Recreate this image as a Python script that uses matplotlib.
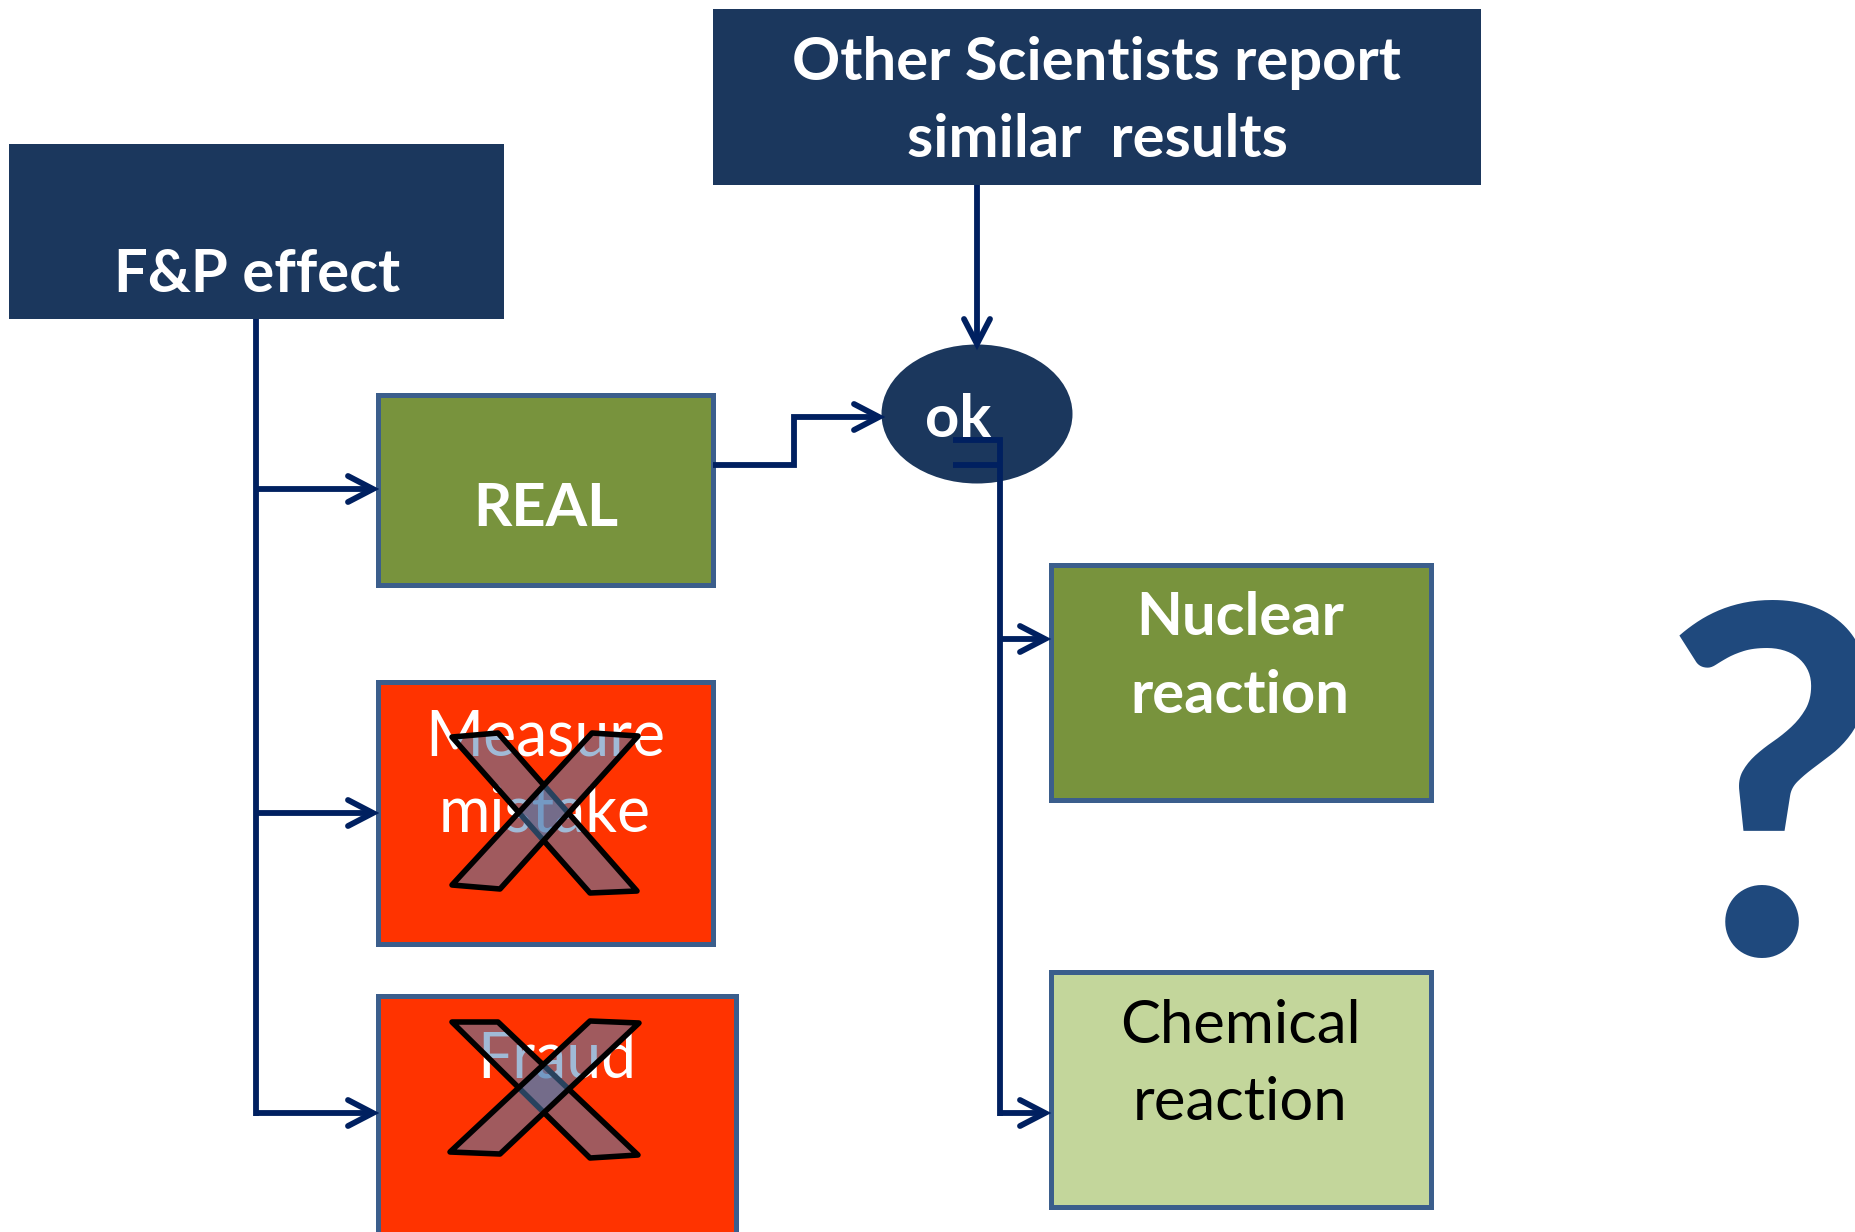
import matplotlib
matplotlib.use("Agg")
import matplotlib.pyplot as plt
from matplotlib.patches import Rectangle, Ellipse, Polygon

plt.rcParams["font.family"] = ["Lato", "DejaVu Sans"]

# -------------------------
# Content
# -------------------------
top_label = ["Other Scientists report", "similar  results"]
source_label = ["F&P effect"]
branch_labels = [["REAL"], ["Measure", "mistake"], ["Fraud"]]
ok_label = "ok"
outcome_labels = [["Nuclear", "reaction"], ["Chemical", "reaction"]]
question_label = "?"

# -------------------------
# Styles
# -------------------------
NAVY_BOX = "#1B375D"
LINE = "#002060"
EDGE = "#3B5E8C"
GREEN = "#78933D"
LIGHT_GREEN = "#C3D69B"
RED = "#FF3300"
QMARK = "#1F497D"
X_FILL = (0.30, 0.49, 0.70, 0.53)

W, H = 1855, 1232
fig = plt.figure(figsize=(W / 100, H / 100), dpi=100)
ax = fig.add_axes([0, 0, 1, 1])
ax.set_xlim(0, W)
ax.set_ylim(H, 0)
ax.axis("off")

LW = 4.2  # connector width (pt)
FS = 43


def box(x0, y0, x1, y1, color, edge=None):
    if edge is None:
        ax.add_patch(Rectangle((x0, y0), x1 - x0, y1 - y0, facecolor=color,
                               edgecolor="none", zorder=2))
    else:
        ax.add_patch(Rectangle((x0 + 2.5, y0 + 2.5), x1 - x0 - 5, y1 - y0 - 5,
                               facecolor=color, edgecolor=edge, linewidth=3.6,
                               zorder=2))


def lines(cx, baselines, labels, color="white", weight="bold", size=FS):
    for b, s in zip(baselines, labels):
        ax.text(cx, b, s, ha="center", va="baseline", color=color,
                fontsize=size, fontweight=weight, zorder=4)


def path(xs, ys):
    ax.plot(xs, ys, color=LINE, lw=LW, solid_capstyle="butt",
            solid_joinstyle="miter", zorder=5)


def head(x, y, direction):
    L, Wd = 25, 13
    if direction == "right":
        xs, ys = [x - L, x, x - L], [y - Wd, y, y + Wd]
    else:  # down
        xs, ys = [x - Wd, x, x + Wd], [y - L, y, y - L]
    ax.plot(xs, ys, color=LINE, lw=LW, solid_capstyle="round",
            solid_joinstyle="miter", zorder=5)


def cross(pts1, pts2):
    for pts in (pts1, pts2):
        ax.add_patch(Polygon(pts, closed=True, facecolor=X_FILL,
                             edgecolor="black", linewidth=4.0,
                             joinstyle="round", zorder=6))


# top box
box(713, 9, 1481, 185, NAVY_BOX)
lines(1097, [80, 157], top_label)

# source box
box(9, 144, 504, 319, NAVY_BOX)
lines(257, [292], source_label)

# branch boxes
branch_boxes = [(375, 392, 715, 587), (375, 679, 715, 946), (375, 993, 738, 1245)]
branch_fill = [GREEN, RED, RED]
branch_base = [[526], [755, 832], [1077]]
branch_cx = [546, 545, 557]
branch_weight = ["bold", "normal", "normal"]
for (x0, y0, x1, y1), fc, bl, cx, wt, lab in zip(branch_boxes, branch_fill, branch_base,
                                                 branch_cx, branch_weight, branch_labels):
    box(x0, y0, x1, y1, fc, EDGE)
    lines(cx, bl, lab, weight=wt, size=FS + (2 if wt == "normal" else 0))

# crossed-out boxes
cross([(452, 737), (498, 733), (637, 891), (590, 893)],
      [(592, 733), (638, 736), (500, 889), (452, 885)])
cross([(452, 1022), (498, 1022), (638, 1155), (590, 1158)],
      [(590, 1021), (639, 1023), (500, 1154), (450, 1152)])

# source trunk + arrows to branches
branch_arrow_y = [489, 813, 1113]
path([256, 256], [319, branch_arrow_y[-1] + 3])
for y in branch_arrow_y:
    path([256, 371], [y, y])
    head(373, y, "right")

# ok ellipse
ax.add_patch(Ellipse((977, 414), 191, 139, facecolor=NAVY_BOX, edgecolor="none", zorder=3))
ax.text(958, 437, ok_label, ha="center", va="baseline", color="white",
        fontsize=FS, fontweight="bold", zorder=4)

# REAL -> ok
path([713, 794, 794, 877], [465, 465, 417, 417])
head(879, 417, "right")

# top box -> ok
path([977, 977], [185, 342])
head(977, 344, "down")

# ok -> outcomes
path([953, 1000, 1000], [440, 440, 1116])
path([953, 1000], [465, 465])
outcome_boxes = [(1048, 562, 1433, 802), (1048, 969, 1433, 1209)]
outcome_fill = [GREEN, LIGHT_GREEN]
outcome_base = [[635, 713], [1043, 1120]]
outcome_color = ["white", "black"]
outcome_weight = ["bold", "normal"]
outcome_arrow_y = [639, 1113]
for (x0, y0, x1, y1), fc, bl, tc, wt, lab, ay in zip(outcome_boxes, outcome_fill, outcome_base,
                                                     outcome_color, outcome_weight,
                                                     outcome_labels, outcome_arrow_y):
    box(x0, y0, x1, y1, fc, EDGE)
    lines(1240, bl, lab, color=tc, weight=wt)
    path([998, 1043], [ay, ay])
    head(1045, ay, "right")

# big question mark (cut by the right edge, as in the slide)
ax.text(1662, 955, question_label, ha="left", va="baseline", color=QMARK,
        fontsize=350, fontweight="bold", zorder=4)

fig.savefig("out.png", dpi=100)
